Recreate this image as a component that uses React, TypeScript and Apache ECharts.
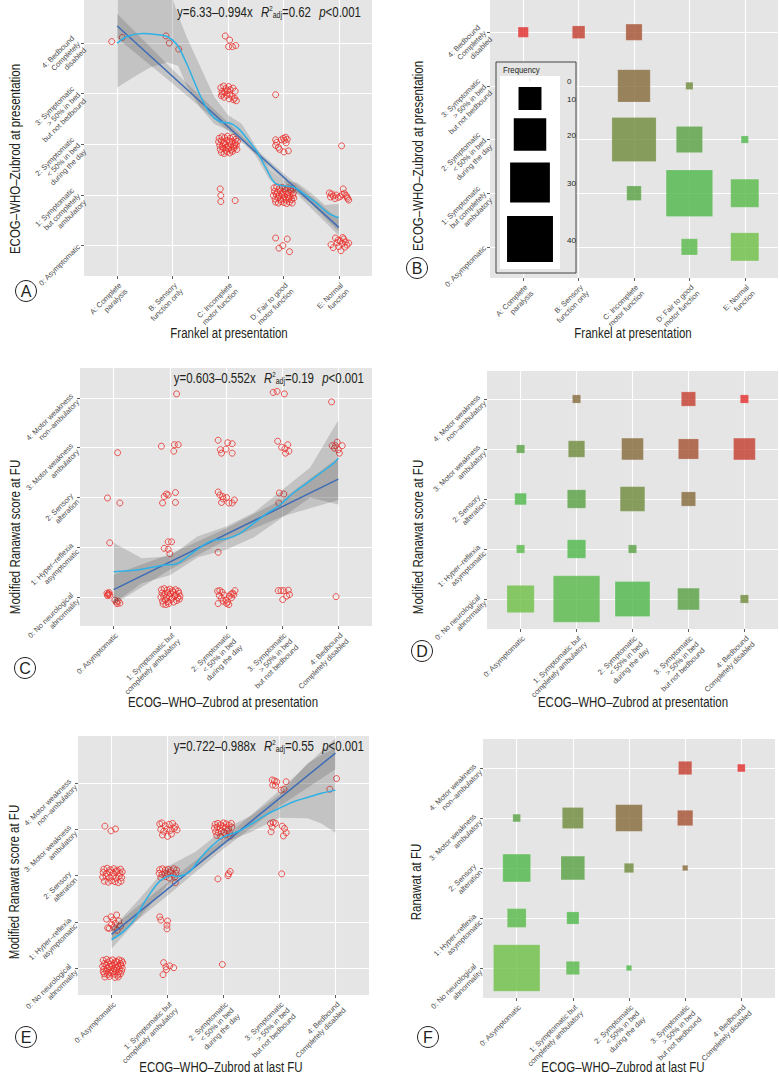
import React, { useEffect, useRef } from 'react';
import * as echarts from 'echarts';

// ---------- tick labels ----------
const TICKS = [0, 1, 2, 3, 4];
const FRANKEL = ['A: Complete\nparalysis', 'B: Sensory\nfunction only', 'C: Incomplete\nmotor function', 'D: Fair to good\nmotor function', 'E: Normal\nfunction'];
const ECOG_Y = ['0: Asymptomatic', '1: Symptomatic\nbut completely\nambulatory', '2: Symptomatic\n< 50% in bed\nduring the day', '3: Symptomatic\n> 50% in bed\nbut not bedbound', '4: Bedbound\nCompletely\ndisabled'];
const ECOG_X = ['0: Asymptomatic', '1: Symptomatic but\ncompletely ambulatory', '2: Symptomatic\n< 50% in bed\nduring the day', '3: Symptomatic\n> 50% in bed\nbut not bedbound', '4: Bedbound\nCompletely disabled'];
const RANAWAT = ['0: No neurological\nabnormality', '1: Hyper–reflexia\nasymptomatic', '2: Sensory\nalteration', '3: Motor weakness\nambulatory', '4: Motor weakness\nnon–ambulatory'];

// ---------- panel A: jittered observations (Frankel index, ECOG) ----------
const POINTS_A = [
  [-0.10, 4.03], [0.09, 4.11],
  [0.88, 4.14], [0.94, 4.0], [1.11, 3.88],
  [1.95, 4.14], [2.03, 4.06], [2.01, 3.93], [2.08, 3.93], [2.14, 3.95],
  [1.87, 3.12], [1.92, 3.15], [1.96, 3.10], [2.01, 3.14], [1.89, 3.04], [1.94, 3.02], [1.99, 3.06], [2.04, 3.08], [2.09, 3.11], [2.13, 3.05],
  [1.88, 2.96], [1.93, 2.93], [1.98, 2.97], [2.03, 2.99], [2.07, 2.95], [2.12, 2.91], [2.15, 2.86], [2.10, 2.88], [2.02, 2.90], [1.90, 2.99],
  [2.86, 2.98],
  [1.84, 2.12], [1.89, 2.15], [1.94, 2.13], [1.99, 2.16], [2.04, 2.12], [2.09, 2.14], [2.14, 2.10],
  [1.83, 2.05], [1.88, 2.07], [1.93, 2.04], [1.98, 2.08], [2.03, 2.05], [2.08, 2.06], [2.13, 2.03], [2.17, 2.06],
  [1.85, 1.98], [1.90, 1.96], [1.95, 2.00], [2.00, 1.97], [2.05, 1.99], [2.10, 1.95], [2.15, 1.98],
  [1.86, 1.90], [1.91, 1.92], [1.96, 1.88], [2.01, 1.91], [2.06, 1.89], [2.11, 1.92], [2.16, 1.90],
  [1.88, 1.84], [1.93, 1.82], [1.98, 1.85], [2.03, 1.83], [2.08, 1.86], [1.97, 1.94], [2.12, 1.99], [1.92, 2.01],
  [2.86, 2.09], [2.86, 1.98], [2.91, 1.94], [3.0, 2.12], [3.04, 2.14], [3.07, 2.1], [3.01, 1.85], [3.09, 1.87], [2.88, 2.04], [2.96, 2.09], [3.05, 2.03], [2.93, 1.9], [3.02, 2.08],
  [4.05, 1.97],
  [1.86, 1.12], [1.87, 0.99], [1.87, 0.87], [2.13, 0.89],
  [2.83, 1.14], [2.88, 1.16], [2.93, 1.13], [2.98, 1.15], [3.03, 1.12], [3.08, 1.14], [3.13, 1.11], [3.17, 1.13],
  [2.84, 1.07], [2.89, 1.05], [2.94, 1.08], [2.99, 1.06], [3.04, 1.09], [3.09, 1.05], [3.14, 1.07], [3.18, 1.04],
  [2.82, 0.99], [2.87, 1.01], [2.92, 0.98], [2.97, 1.00], [3.02, 0.97], [3.07, 1.01], [3.12, 0.98], [3.17, 0.99],
  [2.85, 0.92], [2.90, 0.94], [2.95, 0.91], [3.00, 0.93], [3.05, 0.90], [3.10, 0.93], [3.15, 0.91], [3.19, 0.94],
  [2.86, 0.86], [2.91, 0.84], [2.96, 0.87], [3.01, 0.85], [3.06, 0.83], [3.11, 0.86], [3.16, 0.84], [2.99, 1.02], [3.09, 0.96],
  [3.83, 1.04], [3.87, 1.02], [3.90, 0.98], [3.95, 1.00], [3.99, 0.95], [4.03, 0.97], [4.08, 1.12], [4.10, 1.03], [4.13, 0.99], [4.16, 0.93], [4.18, 0.90], [3.85, 0.96], [3.93, 0.93], [4.06, 1.01], [4.15, 0.96],
  [2.86, 0.15], [3.07, 0.13], [2.92, -0.05], [2.99, 0.0], [3.11, -0.12],
  [3.86, 0.02], [3.90, -0.04], [3.94, 0.15], [3.97, 0.06], [4.00, -0.02], [4.03, 0.09], [4.06, 0.04], [4.09, 0.13], [4.12, 0.07], [4.15, 0.01], [4.18, 0.05], [4.04, -0.10], [3.99, 0.11], [4.11, -0.03], [4.07, 0.16],
];
const REG_A = [[0, 4.336], [4, 0.36]];
const REG_BAND_A = [[0, 4.1, 4.58], [1, 3.2, 3.48], [2, 2.27, 2.43], [2.5, 1.8, 1.91], [3, 1.28, 1.43], [4, 0.2, 0.52]];
const LOESS_A = [[0, 4.0], [0.2, 4.14], [0.47, 4.19], [0.7, 4.17], [0.9, 4.13], [1.07, 3.98], [1.25, 3.6], [1.5, 2.96], [1.67, 2.62], [1.85, 2.45], [2.03, 2.42], [2.18, 2.32], [2.36, 2.09], [2.52, 1.86], [2.7, 1.5], [2.85, 1.23], [3.0, 1.18], [3.18, 1.16], [3.36, 1.03], [3.6, 0.84], [3.81, 0.64], [4, 0.55]];
const LOESS_BAND_A = [[0, 3.12, 4.95], [0.3, 3.33, 5.4], [0.6, 3.52, 5.5], [0.9, 3.62, 5.2], [1.1, 3.55, 4.55], [1.25, 3.17, 4.13], [1.5, 2.72, 3.53], [1.75, 2.4, 2.94], [2.0, 2.28, 2.58], [2.25, 2.12, 2.4], [2.5, 1.78, 1.96], [2.75, 1.3, 1.52], [3.0, 1.08, 1.28], [3.25, 1.04, 1.24], [3.5, 0.83, 1.04], [3.75, 0.55, 0.8], [4.0, 0.28, 0.82]];

// ---------- panel C ----------
const POINTS_C = [
  [-0.12, 0.08], [-0.10, 0.05], [-0.08, 0.09], [-0.11, 0.03], [-0.07, 0.04], [-0.09, 0.07], [0.02, -0.06], [0.05, -0.10], [0.08, -0.08], [0.11, -0.12], [0.06, -0.13],
  [-0.07, 1.09], [-0.11, 1.99], [0.11, 1.89], [0.07, 2.9],
  [0.85, 0.15], [0.90, 0.17], [0.95, 0.14], [1.00, 0.16], [1.05, 0.13], [1.10, 0.15], [1.15, 0.12],
  [0.86, 0.08], [0.91, 0.06], [0.96, 0.09], [1.01, 0.07], [1.06, 0.10], [1.11, 0.05], [1.16, 0.08],
  [0.84, 0.00], [0.89, 0.02], [0.94, -0.01], [0.99, 0.01], [1.04, -0.02], [1.09, 0.03], [1.14, -0.01], [1.18, 0.02],
  [0.87, -0.08], [0.92, -0.06], [0.97, -0.09], [1.02, -0.05], [1.07, -0.10], [1.12, -0.07], [1.17, -0.04],
  [0.88, -0.14], [0.93, -0.15], [0.98, -0.13],
  [0.9, 0.98], [0.97, 1.11], [1.03, 1.11], [0.97, 0.96], [1.0, 0.87],
  [0.87, 1.89], [0.9, 2.02], [0.94, 2.07], [0.97, 2.05], [1.1, 2.1], [1.1, 1.9],
  [0.85, 3.03], [1.07, 2.93], [1.08, 3.06], [1.15, 3.06],
  [1.12, 4.08],
  [1.85, 0.12], [1.89, 0.13], [1.93, 0.10], [1.88, 0.03], [1.92, -0.02], [1.97, 0.04], [2.00, -0.06], [2.03, -0.10], [2.06, 0.02], [2.09, 0.06], [2.12, 0.08], [2.16, 0.13], [1.95, -0.08], [2.01, -0.13], [2.05, -0.15], [1.86, -0.13], [2.10, -0.01], [2.14, 0.05],
  [1.86, 0.9],
  [1.86, 2.11], [1.89, 2.05], [1.94, 2.02], [2.01, 2.0], [1.92, 1.9], [2.05, 1.89], [2.11, 1.89], [2.15, 1.95], [1.95, 1.97],
  [1.86, 3.15], [1.9, 2.96], [1.92, 2.89], [2.0, 2.97], [2.03, 3.1], [2.11, 3.08], [2.11, 2.89],
  [2.93, 0.13], [2.98, 0.13], [3.03, 0.13], [3.11, 0.14], [3.13, 0.05], [3.08, 0.02], [3.01, -0.05],
  [2.95, 2.09], [3.03, 2.07], [2.94, 1.89],
  [2.92, 3.13], [2.99, 3.01], [3.05, 2.98], [3.1, 3.06], [3.12, 2.93], [3.06, 2.89],
  [2.84, 4.11], [2.91, 4.13], [3.04, 4.08],
  [3.96, 0.01],
  [3.89, 3.04], [3.95, 3.04], [3.98, 3.11], [4.0, 2.96], [4.02, 2.89], [4.07, 3.04], [3.93, 2.99],
  [3.88, 3.92],
];
const REG_C = [[0, 0.15], [4, 2.37]];
const REG_BAND_C = [[0, -0.15, 0.45], [1, 0.55, 0.86], [2, 1.14, 1.38], [3, 1.62, 1.96], [4, 1.95, 2.8]];
const LOESS_C = [[0, 0.51], [0.45, 0.55], [0.88, 0.64], [1.12, 0.67], [1.3, 0.8], [1.54, 1.0], [1.77, 1.14], [2.01, 1.17], [2.25, 1.28], [2.49, 1.48], [2.73, 1.68], [2.96, 1.85], [3.2, 2.09], [3.44, 2.29], [3.68, 2.49], [3.92, 2.69], [4, 2.79]];
const LOESS_BAND_C = [[0, -0.13, 1.09], [0.5, 0.28, 0.78], [1, 0.44, 0.82], [1.5, 0.8, 1.22], [2, 0.95, 1.42], [2.5, 1.2, 1.7], [3, 1.6, 2.15], [3.5, 2.0, 2.6], [4, 1.86, 3.55]];

// ---------- panel E ----------
const POINTS_E = [
  [-0.15, 0.17], [-0.09, 0.19], [-0.03, 0.16], [0.02, 0.18], [0.08, 0.15], [0.13, 0.18], [0.18, 0.16],
  [-0.13, 0.10], [-0.07, 0.12], [-0.01, 0.09], [0.05, 0.11], [0.10, 0.13], [0.16, 0.10], [0.20, 0.12],
  [-0.16, 0.04], [-0.10, 0.06], [-0.04, 0.03], [0.01, 0.05], [0.07, 0.07], [0.12, 0.04], [0.17, 0.06],
  [-0.14, -0.02], [-0.08, 0.00], [-0.02, -0.03], [0.04, -0.01], [0.09, 0.01], [0.14, -0.02], [0.19, 0.00],
  [-0.15, -0.08], [-0.09, -0.06], [-0.03, -0.09], [0.03, -0.07], [0.08, -0.05], [0.13, -0.08], [0.18, -0.06],
  [-0.13, -0.12], [-0.07, -0.14], [-0.01, -0.11], [0.05, -0.13], [0.11, -0.15], [0.16, -0.12],
  [-0.12, -0.19], [-0.04, -0.18], [0.06, -0.20], [0.12, -0.19],
  [-0.09, 1.06], [-0.01, 1.11], [0.09, 1.15], [0.03, 1.04], [0.13, 1.02], [-0.04, 0.86], [0.04, 0.89], [0.10, 0.82], [0.00, 0.95], [0.07, 0.97], [0.16, 0.91], [-0.07, 0.87],
  [-0.14, 2.14], [-0.08, 2.16], [-0.02, 2.13], [0.04, 2.15], [0.10, 2.12], [0.16, 2.14],
  [-0.15, 2.07], [-0.09, 2.05], [-0.03, 2.08], [0.03, 2.06], [0.09, 2.09], [0.15, 2.05], [0.19, 2.08],
  [-0.16, 1.97], [-0.10, 1.99], [-0.04, 1.96], [0.02, 1.98], [0.08, 1.95], [0.14, 1.99], [0.18, 1.96],
  [-0.13, 1.88], [-0.06, 1.86], [0.00, 1.89], [0.06, 1.87], [0.12, 1.85], [0.17, 1.88],
  [-0.12, 3.07], [-0.01, 2.97], [0.07, 3.01],
  [0.93, 0.12], [0.97, 0.03], [1.04, 0.05], [1.11, 0.01], [0.92, -0.14], [0.98, -0.03],
  [0.86, 1.11], [0.88, 1.04], [1.0, 1.02], [0.99, 0.93], [0.99, 0.85],
  [0.86, 2.13], [0.91, 2.15], [0.96, 2.12], [1.01, 2.14], [1.06, 2.11], [1.11, 2.15], [1.16, 2.12],
  [0.85, 2.05], [0.90, 2.03], [0.95, 2.06], [1.00, 2.04], [1.05, 2.07], [1.10, 2.02], [1.15, 2.05],
  [0.88, 1.96], [0.97, 1.98], [1.03, 1.95], [1.13, 1.97], [1.14, 1.85],
  [0.86, 3.12], [0.90, 3.14], [0.96, 3.08], [1.03, 3.11], [1.09, 3.13], [1.14, 3.06], [0.88, 3.0], [0.93, 2.96], [0.99, 3.01], [1.05, 2.98], [1.12, 3.02], [1.17, 2.99], [0.91, 2.88], [1.00, 2.85], [1.07, 2.9],
  [1.98, 0.08],
  [1.9, 1.93], [2.08, 2.0], [2.12, 2.09], [2.09, 2.04],
  [1.85, 3.11], [1.90, 3.13], [1.95, 3.10], [2.00, 3.14], [2.05, 3.12], [2.10, 3.09], [2.14, 3.13],
  [1.84, 3.03], [1.89, 3.05], [1.94, 3.02], [1.99, 3.06], [2.04, 3.04], [2.09, 3.01], [2.15, 3.05],
  [1.86, 2.95], [1.91, 2.93], [1.96, 2.96], [2.01, 2.94], [2.06, 2.97], [2.11, 2.92],
  [1.88, 2.87], [1.95, 2.85], [2.03, 2.88], [2.12, 2.86],
  [3.04, 2.04],
  [2.84, 3.13], [2.89, 3.15], [2.93, 3.13], [2.87, 3.05], [2.85, 2.95], [3.05, 3.07], [3.09, 3.02], [3.12, 2.93], [3.07, 2.86],
  [2.87, 4.07], [2.91, 4.05], [2.95, 4.03], [2.88, 3.96], [2.93, 3.95], [3.12, 4.03], [3.03, 3.85], [3.08, 3.87],
  [4.02, 4.1], [3.9, 3.87],
];
const REG_E = [[0, 0.73], [4, 4.65]];
const REG_BAND_E = [[0, 0.58, 0.88], [1, 1.57, 1.85], [2, 2.58, 2.8], [3, 3.5, 3.84], [4, 4.3, 4.97]];
const LOESS_E = [[0, 0.62], [0.2, 0.78], [0.4, 1.04], [0.61, 1.47], [0.82, 1.83], [0.93, 1.94], [1.08, 2.01], [1.17, 1.98], [1.3, 2.02], [1.41, 2.1], [1.6, 2.4], [1.8, 2.65], [2, 2.84], [2.25, 2.95], [2.5, 3.12], [2.75, 3.31], [3, 3.46], [3.25, 3.6], [3.5, 3.69], [3.75, 3.78], [4, 3.85]];
const LOESS_BAND_E = [[0, 0.42, 0.84], [0.5, 1.1, 1.5], [1, 1.8, 2.2], [1.5, 2.19, 2.52], [2, 2.7, 3.0], [2.5, 2.95, 3.3], [3, 3.25, 3.75], [3.5, 3.24, 4.43], [3.75, 3.13, 4.61], [4, 2.93, 4.76]];

// ---------- frequency panels: [x, y, count] ----------
const COUNTS_B = [[0, 4, 2], [1, 4, 3], [2, 4, 5], [2, 3, 20], [3, 3, 1], [2, 2, 37], [3, 2, 13], [4, 2, 1], [2, 1, 4], [3, 1, 41], [4, 1, 15], [3, 0, 5], [4, 0, 15]];
const COUNTS_D = [[0, 0, 11], [1, 0, 32], [2, 0, 18], [3, 0, 7], [4, 0, 1], [0, 1, 1], [1, 1, 5], [2, 1, 1], [0, 2, 2], [1, 2, 5], [2, 2, 9], [3, 2, 3], [0, 3, 1], [1, 3, 4], [2, 3, 7], [3, 3, 6], [4, 3, 7], [1, 4, 1], [3, 4, 3], [4, 4, 1]];
const COUNTS_F = [[0, 0, 73], [1, 0, 6], [2, 0, 1], [0, 1, 12], [1, 1, 5], [0, 2, 26], [1, 2, 19], [2, 2, 3], [3, 2, 1], [0, 3, 2], [1, 3, 15], [2, 3, 24], [3, 3, 8], [3, 4, 6], [4, 4, 2]];
const LEGEND_VALUES = [0, 10, 20, 30, 40];

const EQUATIONS = [
  { a: '6.33', b: '0.994', r2: '0.62', p: '<0.001' },
  { a: '0.603', b: '0.552', r2: '0.19', p: '<0.001' },
  { a: '0.722', b: '0.988', r2: '0.55', p: '<0.001' },
];

// ---------- styling ----------
const SANS = "'Liberation Sans', Arial, sans-serif";
const NARROW_SCALE = 0.82;
const INK = '#231f20';
const PALETTE = ['#6dbe45', '#58b947', '#4cb748', '#58a042', '#6e8a3b', '#84693a', '#a5502f', '#c43c2d', '#e22a2a'];
const MAX_SIDE = 46.5;
const BAND = 'rgba(60,60,60,0.2)';

const GRIDS = [
  { left: 84, top: 0, width: 288, height: 276 },
  { left: 490, top: 0, width: 288, height: 278 },
  { left: 80, top: 368, width: 292, height: 258 },
  { left: 487, top: 371, width: 291, height: 258 },
  { left: 78, top: 736, width: 291, height: 259 },
  { left: 483, top: 739, width: 292, height: 259 },
];
const YRANGES = [[-0.6, 4.85], [-0.58, 4.6], [-0.58, 4.6], [-0.6, 4.56], [-0.58, 5.02], [-0.6, 4.58]];
const XLABELS = [FRANKEL, FRANKEL, ECOG_X, ECOG_X, ECOG_X, ECOG_X];
const YLABELS = [ECOG_Y, ECOG_Y, RANAWAT, RANAWAT, RANAWAT, RANAWAT];

function sideFor(n: number, nmax: number) {
  return MAX_SIDE * Math.sqrt(n / nmax);
}

function axis(i: number, range: number[], labels: string[], dim: 'x' | 'y') {
  return {
    type: 'value',
    gridIndex: i,
    min: range[0],
    max: range[1],
    axisLine: { show: false, onZero: false },
    axisTick: { show: true, length: 3, customValues: TICKS, lineStyle: { color: '#333', width: 0.8 } },
    axisLabel: {
      show: true,
      customValues: TICKS,
      rotate: 45,
      formatter: (v: number) => labels[Math.round(v)] ?? '',
      fontSize: 7.5,
      lineHeight: 8.5,
      color: '#4d4d4d',
      fontFamily: SANS,
      margin: 5,
      align: 'right',
      verticalAlign: dim === 'x' ? 'top' : 'middle',
    },
    splitLine: { show: true, lineStyle: { color: '#ffffff', width: 1.1 } },
  };
}

function bandSeries(i: number, band: number[][]) {
  return {
    type: 'custom',
    xAxisIndex: i,
    yAxisIndex: i,
    clip: true,
    silent: true,
    z: 2,
    data: band,
    encode: { x: 0, y: [1, 2] },
    renderItem: (params: any, api: any) => {
      if (params.dataIndex !== 0) return null;
      const up = band.map((r) => api.coord([r[0], r[2]]));
      const lo = band.map((r) => api.coord([r[0], r[1]])).reverse();
      return { type: 'polygon', shape: { points: up.concat(lo) }, style: { fill: BAND } };
    },
  };
}

function pointSeries(i: number, data: number[][]) {
  return {
    type: 'scatter', xAxisIndex: i, yAxisIndex: i, data, symbol: 'circle', symbolSize: 6, z: 1, silent: true,
    itemStyle: { color: 'rgba(0,0,0,0)', borderColor: '#e8302a', borderWidth: 1 },
  };
}

function lineSeries(i: number, data: number[][], color: string, smooth: number, z: number) {
  return {
    type: 'line', xAxisIndex: i, yAxisIndex: i, data, showSymbol: false, smooth, z, silent: true,
    lineStyle: { color, width: 1.5 },
  };
}

function squareSeries(i: number, data: number[][], reverseX: boolean) {
  const nmax = Math.max(...data.map((d) => d[2]));
  return {
    type: 'scatter', xAxisIndex: i, yAxisIndex: i, data, symbol: 'rect', silent: true,
    symbolSize: (v: number[]) => sideFor(v[2], nmax),
    itemStyle: {
      color: (p: any) => PALETTE[(reverseX ? 4 - p.value[0] : p.value[0]) + p.value[1]],
      borderColor: 'rgba(255,255,255,0.35)', borderWidth: 0.6,
    },
  };
}

function eqText(e: { a: string; b: string; r2: string; p: string }) {
  return `{n|y=${e.a}–${e.b}x}{g| }{i|R}{sup|2}{sub|adj}{n|=${e.r2}}{g| }{i|p}{n|${e.p}}`;
}
const EQ_RICH = {
  n: { fontSize: 14, fontFamily: SANS, fill: INK, lineHeight: 16 },
  i: { fontSize: 14, fontFamily: SANS, fontStyle: 'italic', fill: INK, lineHeight: 16 },
  sup: { fontSize: 7.5, fontFamily: SANS, fill: INK, verticalAlign: 'top', lineHeight: 8 },
  sub: { fontSize: 8.5, fontFamily: SANS, fill: INK, verticalAlign: 'bottom', lineHeight: 9 },
  g: { width: 10, fontSize: 14, lineHeight: 16 },
};

function title(x: number, y: number, text: string, vertical: boolean) {
  return {
    type: 'text', x, y, rotation: vertical ? Math.PI / 2 : 0, scaleX: NARROW_SCALE, silent: true,
    style: { text, fontSize: 14, fontFamily: SANS, fill: INK, align: 'center', verticalAlign: 'middle' },
  };
}
function letter(cx: number, cy: number, t: string) {
  return [
    { type: 'circle', shape: { cx, cy, r: 10.5 }, style: { fill: '#fff', stroke: INK, lineWidth: 1 }, silent: true },
    { type: 'text', x: cx, y: cy + 0.5, silent: true, style: { text: t, fontSize: 16, fontFamily: SANS, fill: INK, align: 'center', verticalAlign: 'middle' } },
  ];
}

function buildOption() {
  const nmaxB = Math.max(...COUNTS_B.map((d) => d[2]));
  const legendY = [80, 98.5, 134.5, 182.5, 239];
  const legend: any[] = [
    { type: 'rect', shape: { x: 496, y: 62, width: 80, height: 211 }, style: { fill: '#e5e5e5', stroke: '#444', lineWidth: 1 }, silent: true, z: 10 },
    { type: 'rect', shape: { x: 500, y: 76, width: 60, height: 193 }, style: { fill: '#ffffff' }, silent: true, z: 10 },
    { type: 'text', x: 503, y: 70, scaleX: NARROW_SCALE, silent: true, z: 10, style: { text: 'Frequency', fontSize: 9.5, fontFamily: SANS, fill: INK, verticalAlign: 'middle' } },
  ];
  LEGEND_VALUES.forEach((v, k) => {
    const s = Math.max(sideFor(v, nmaxB), 1);
    legend.push({ type: 'rect', shape: { x: 530 - s / 2, y: legendY[k] - s / 2, width: s, height: s }, style: { fill: v === 0 ? '#bbb' : '#000' }, silent: true, z: 11 });
    legend.push({ type: 'text', x: 567, y: legendY[k] + 1, silent: true, z: 11, style: { text: String(v), fontSize: 8, fontFamily: SANS, fill: INK, verticalAlign: 'middle' } });
  });

  const eq = (x: number, y: number, e: any) => ({
    type: 'text', x, y, scaleX: NARROW_SCALE, silent: true, z: 20,
    style: { text: eqText(e), align: 'right', verticalAlign: 'middle', rich: EQ_RICH },
  });

  return {
    animation: false,
    backgroundColor: '#ffffff',
    grid: GRIDS.map((g) => ({ ...g, show: true, backgroundColor: '#e5e5e5', borderWidth: 0 })),
    xAxis: GRIDS.map((_, i) => axis(i, [-0.6, 4.6], XLABELS[i], 'x')),
    yAxis: GRIDS.map((_, i) => axis(i, YRANGES[i], YLABELS[i], 'y')),
    series: [
      pointSeries(0, POINTS_A), bandSeries(0, REG_BAND_A), bandSeries(0, LOESS_BAND_A),
      lineSeries(0, REG_A, '#3f6db5', 0, 3), lineSeries(0, LOESS_A, '#2db1e6', 0.35, 4),
      squareSeries(1, COUNTS_B, true),
      pointSeries(2, POINTS_C), bandSeries(2, REG_BAND_C), bandSeries(2, LOESS_BAND_C),
      lineSeries(2, REG_C, '#3f6db5', 0, 3), lineSeries(2, LOESS_C, '#2db1e6', 0.35, 4),
      squareSeries(3, COUNTS_D, false),
      pointSeries(4, POINTS_E), bandSeries(4, REG_BAND_E), bandSeries(4, LOESS_BAND_E),
      lineSeries(4, REG_E, '#3f6db5', 0, 3), lineSeries(4, LOESS_E, '#2db1e6', 0.35, 4),
      squareSeries(5, COUNTS_F, false),
    ],
    graphic: [
      eq(361, 12, EQUATIONS[0]),
      eq(364, 378, EQUATIONS[1]),
      eq(364, 746, EQUATIONS[2]),
      title(15, 159, 'ECOG–WHO–Zubrod at presentation', true),
      title(418, 156, 'ECOG–WHO–Zubrod at presentation', true),
      title(229, 333, 'Frankel at presentation', false),
      title(633, 333, 'Frankel at presentation', false),
      title(15, 537, 'Modified Ranawat score at FU', true),
      title(418, 537, 'Modified Ranawat score at FU', true),
      title(223, 702, 'ECOG–WHO–Zubrod at presentation', false),
      title(633, 702, 'ECOG–WHO–Zubrod at presentation', false),
      title(14, 882, 'Modified Ranawat score at FU', true),
      title(416, 882, 'Ranawat at FU', true),
      title(221, 1067, 'ECOG–WHO–Zubrod at last FU', false),
      title(623, 1067, 'ECOG–WHO–Zubrod at last FU', false),
      ...letter(26, 291, 'A'),
      ...letter(417, 268, 'B'),
      ...letter(25, 668, 'C'),
      ...letter(422, 651, 'D'),
      ...letter(26, 1037, 'E'),
      ...letter(428, 1037, 'F'),
      ...legend,
    ],
  };
}

export default function App() {
  const ref = useRef<HTMLDivElement>(null);
  useEffect(() => {
    document.body.style.margin = '0';
    const chart = echarts.init(ref.current!, undefined, { renderer: 'svg' });
    chart.setOption(buildOption() as any);
    return () => chart.dispose();
  }, []);
  return <div ref={ref} style={{ width: 779, height: 1080 }} />;
}
